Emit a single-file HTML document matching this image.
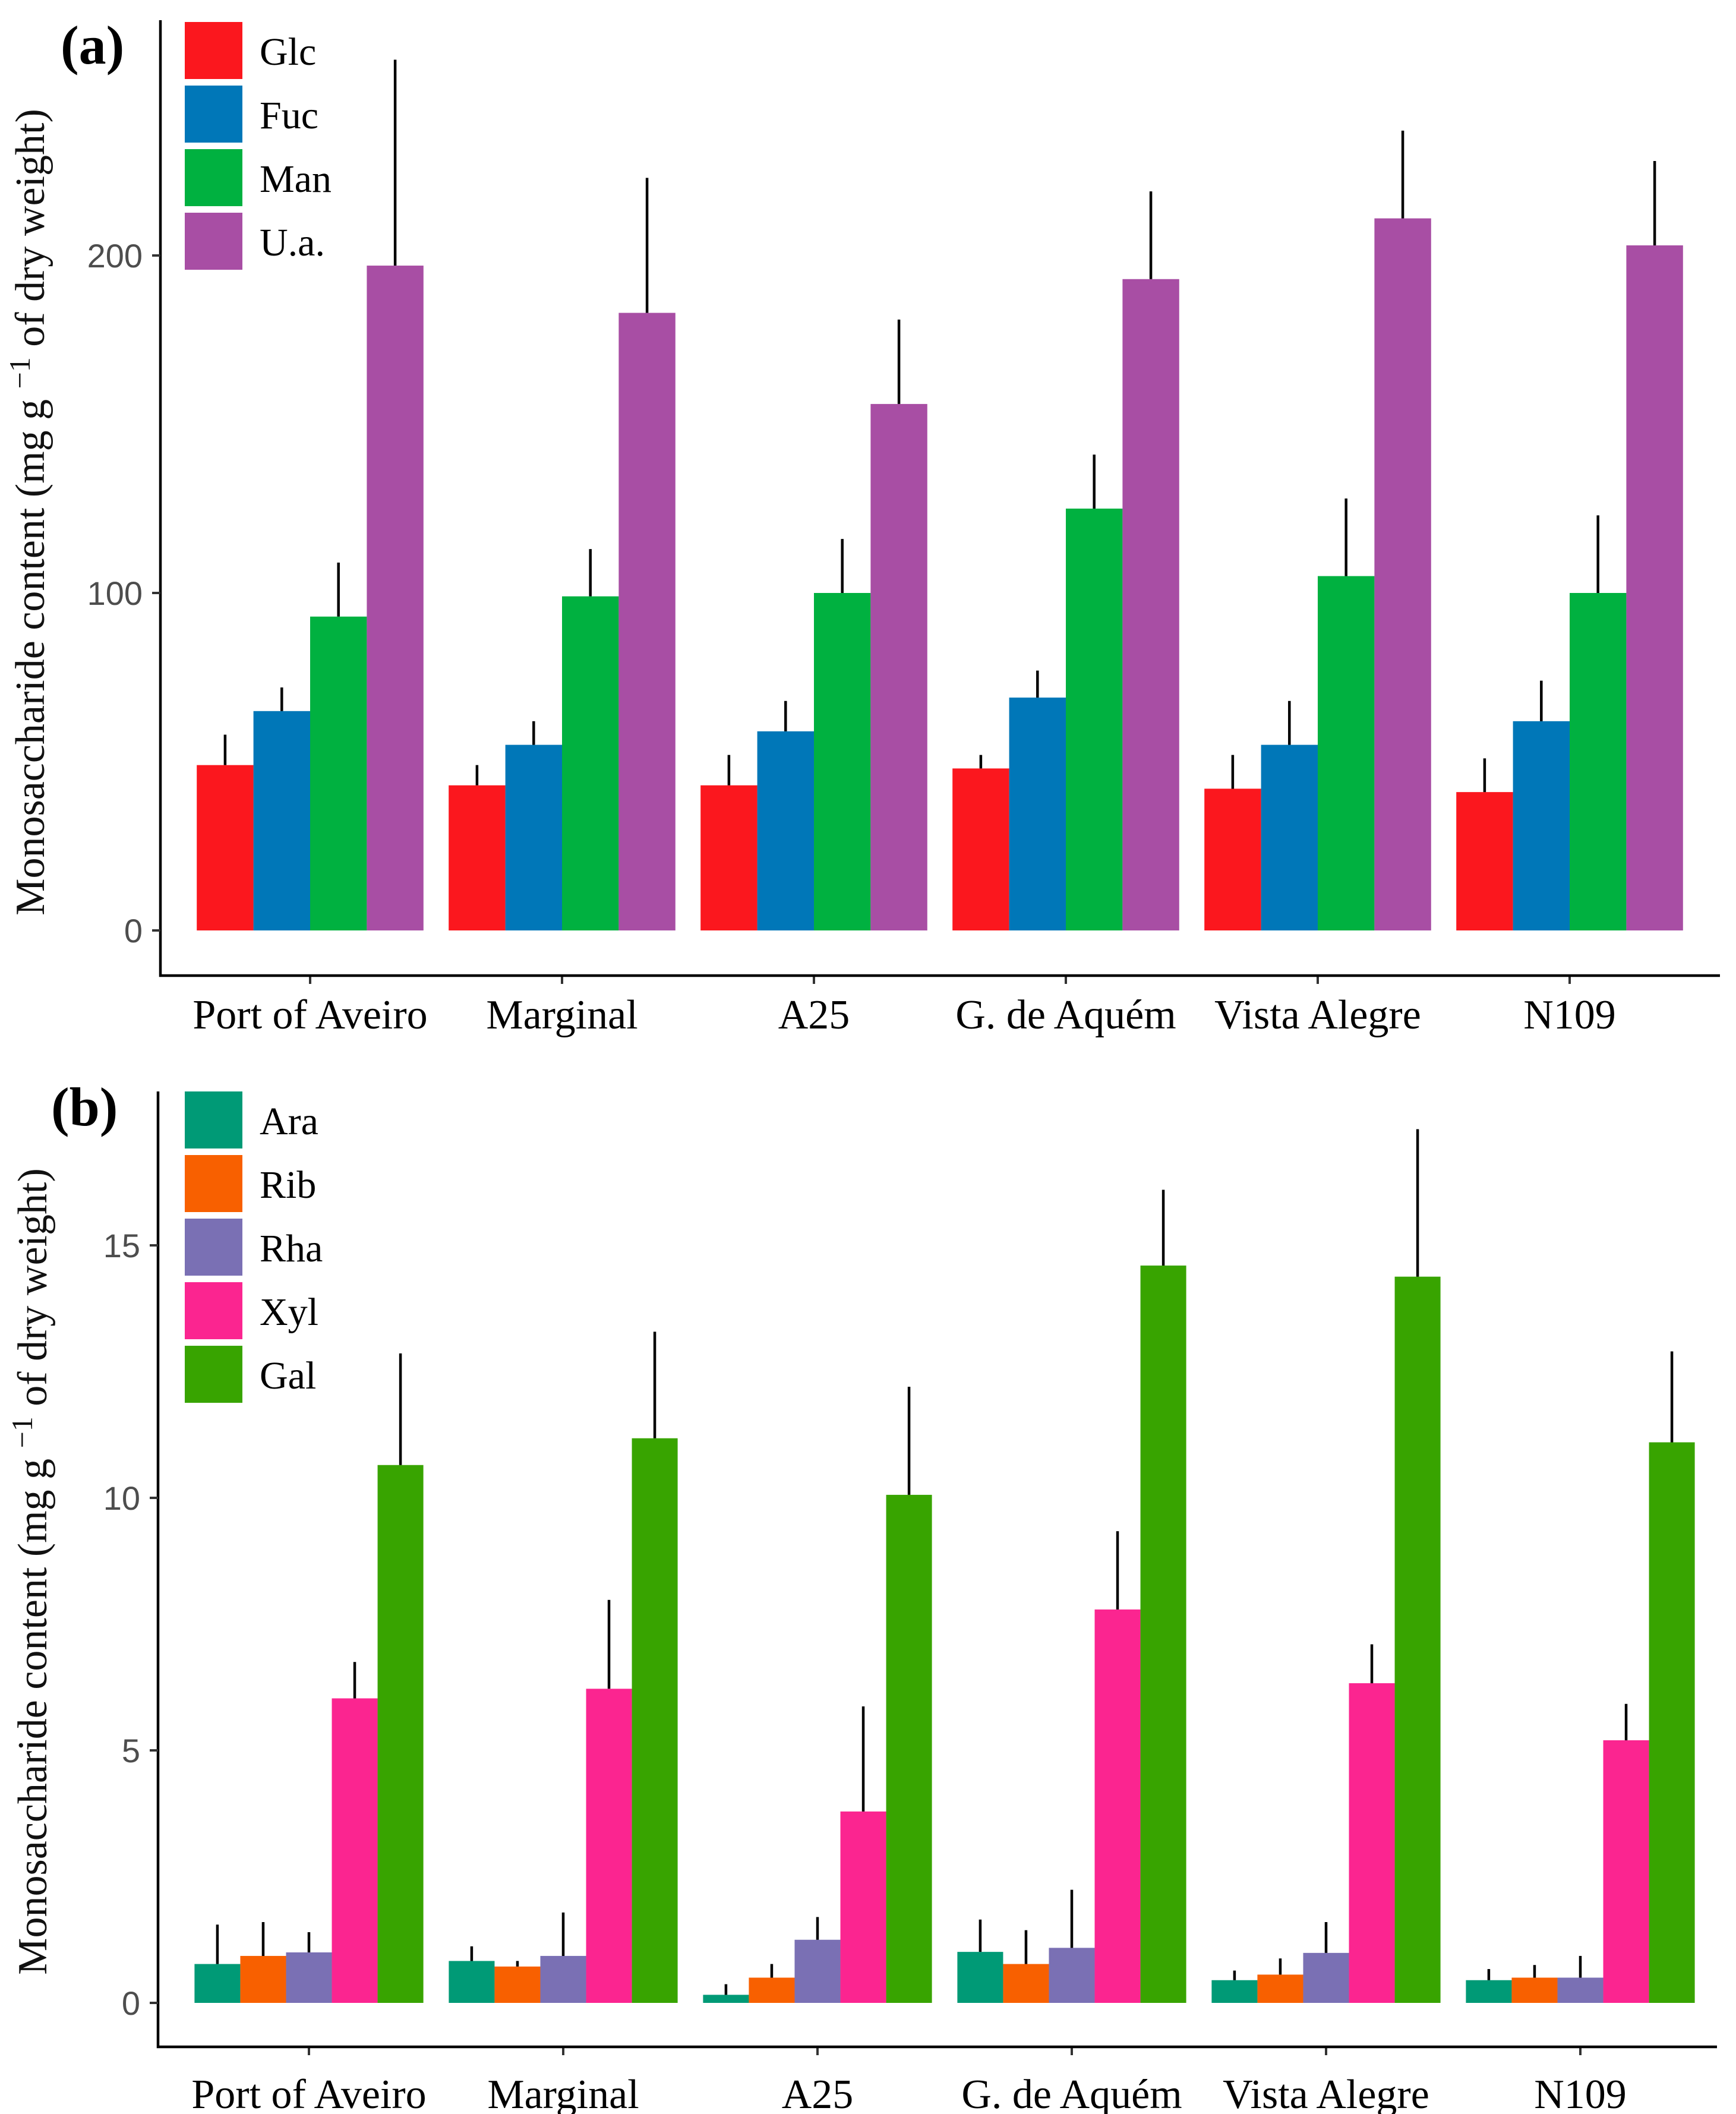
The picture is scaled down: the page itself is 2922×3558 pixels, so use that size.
<!DOCTYPE html>
<html><head><meta charset="utf-8"><style>
html,body{margin:0;padding:0;background:#fff;}
svg{display:block;}
</style></head><body>
<svg id="chart" width="2922" height="3558" viewBox="0 0 2922 3558" xmlns="http://www.w3.org/2000/svg">
<rect width="2922" height="3558" fill="#fff"/>
<g id="pa"></g>
<g id="pb"></g>
</svg>
<script>
const sites = ["Port of Aveiro","Marginal","A25","G. de Aquém","Vista Alegre","N109"];
const seriesA = ["Glc","Fuc","Man","U.a."];
const colorsA = ["#fb171e","#0077b8","#00b140","#a84ea4"];
const glcVals = [49,43,43,48,42,41];
const glcErr = [58,49,52,52,52,51];
const fucVals = [65,55,59,69,55,62];
const fucErr = [72,62,68,77,68,74];
const manVals = [93,99,100,125,105,100];
const manErr = [109,113,116,141,128,123];
const uaVals = [197,183,156,193,211,203];
const uaErr = [258,223,181,219,237,228];
const ticksA = [0,100,200];

const seriesB = ["Ara","Rib","Rha","Xyl","Gal"];
const colorsB = ["#009a76","#f86000","#7a70b4","#fb2590","#38a400"];
const araVals = [0.77,0.83,0.16,1.01,0.45,0.45];
const araErr = [1.55,1.12,0.37,1.65,0.64,0.67];
const ribVals = [0.93,0.72,0.5,0.77,0.56,0.5];
const ribErr = [1.6,0.83,0.77,1.44,0.88,0.75];
const rhaVals = [1.0,0.93,1.25,1.09,0.99,0.5];
const rhaErr = [1.4,1.79,1.7,2.24,1.6,0.93];
const xylVals = [6.03,6.22,3.79,7.79,6.33,5.2];
const xylErr = [6.75,7.98,5.87,9.34,7.1,5.92];
const galVals = [10.65,11.18,10.06,14.6,14.38,11.1];
const galErr = [12.86,13.29,12.2,16.1,17.3,12.9];
const ticksB = [0,5,10,15];

const NS="http://www.w3.org/2000/svg";
function mk(parent,tag,attrs){const e=document.createElementNS(NS,tag);for(const k in attrs)e.setAttribute(k,attrs[k]);parent.appendChild(e);return e;}

function drawPanel(g,cfg){
  const y=v=>cfg.y0-(v)*cfg.ppu;
  const n=cfg.vals.length;
  const bw=cfg.pitch*0.9/n;
  sites.forEach((s,i)=>{
    const cx=cfg.c0+i*cfg.pitch;
    const left=cx-bw*n/2;
    cfg.vals.forEach((arr,j)=>{
      const x=left+j*bw;
      const r=mk(g,'rect',{x:x,y:y(arr[i]),width:bw,height:y(0)-y(arr[i]),fill:cfg.colors[j]});
      
      
      const l=mk(g,'line',{x1:x+bw/2,x2:x+bw/2,y1:y(arr[i]),y2:y(cfg.errs[j][i]),stroke:'#000','stroke-width':4.5});
      
      
    });
    const t=mk(g,'line',{x1:cx,x2:cx,y1:cfg.axB,y2:cfg.axB+14,stroke:'#333','stroke-width':4});
    
    
    const lb=mk(g,'text',{x:cx,y:cfg.xlabY,'text-anchor':'middle','font-family':'"Liberation Serif",serif','font-size':70,fill:'#000'});
    lb.textContent=s;
    
    
  });
  const ax=mk(g,'path',{d:`M${cfg.axX},${cfg.axT} V${cfg.axB} H${cfg.axR}`,fill:'none',stroke:'#000','stroke-width':4.5});
  
  
  cfg.ticks.forEach(v=>{
    const tk=mk(g,'line',{x1:cfg.axX-14,x2:cfg.axX,y1:y(v),y2:y(v),stroke:'#333','stroke-width':4});
    
    
    const tl=mk(g,'text',{x:cfg.axX-30,y:y(v)+20,'text-anchor':'end','font-family':'"Liberation Sans",sans-serif','font-size':56,fill:'#4d4d4d'});
    tl.textContent=v;
    
    
  });
  cfg.names.forEach((nm,j)=>{
    const top=cfg.legT+j*107;
    const k=mk(g,'rect',{x:311,y:top,width:97,height:96,fill:cfg.colors[j]});
    
    
    const tx=mk(g,'text',{x:437,y:top+72,'font-family':'"Liberation Serif",serif','font-size':66,fill:'#000'});
    tx.textContent=nm;
    
    
  });
  const pl=mk(g,'text',{x:cfg.plX,y:cfg.plY,'font-family':'"Liberation Serif",serif','font-size':92,'font-weight':'bold',fill:'#000'});
  pl.textContent=cfg.label;
  
  
  const yt=mk(g,'text',{x:0,y:0,transform:`translate(${cfg.ytX},${cfg.ytY}) rotate(-90)`,'text-anchor':'middle','font-family':'"Liberation Serif",serif','font-size':70,fill:'#111'});
  yt.innerHTML='Monosaccharide content (mg g <tspan dy="-24" font-size="50">−1</tspan><tspan dy="24"> of dry weight)</tspan>';
  
  
}

drawPanel(document.getElementById('pa'),{
  vals:[glcVals,fucVals,manVals,uaVals],errs:[glcErr,fucErr,manErr,uaErr],
  names:seriesA,colors:colorsA,ticks:ticksA,
  y0:1566,ppu:5.68,c0:522,pitch:424,axX:270,axT:34,axB:1642,axR:2895,
  xlabY:1731,legT:37,plX:102,plY:107,label:'(a)',ytX:74,ytY:862
});
drawPanel(document.getElementById('pb'),{
  vals:[araVals,ribVals,rhaVals,xylVals,galVals],errs:[araErr,ribErr,rhaErr,xylErr,galErr],
  names:seriesB,colors:colorsB,ticks:ticksB,
  y0:3371,ppu:85,c0:520,pitch:428,axX:266,axT:1837,axB:3445,axR:2890,
  xlabY:3548,legT:1837,plX:86,plY:1894,label:'(b)',ytX:78,ytY:2645
});
</script>
</body></html>
